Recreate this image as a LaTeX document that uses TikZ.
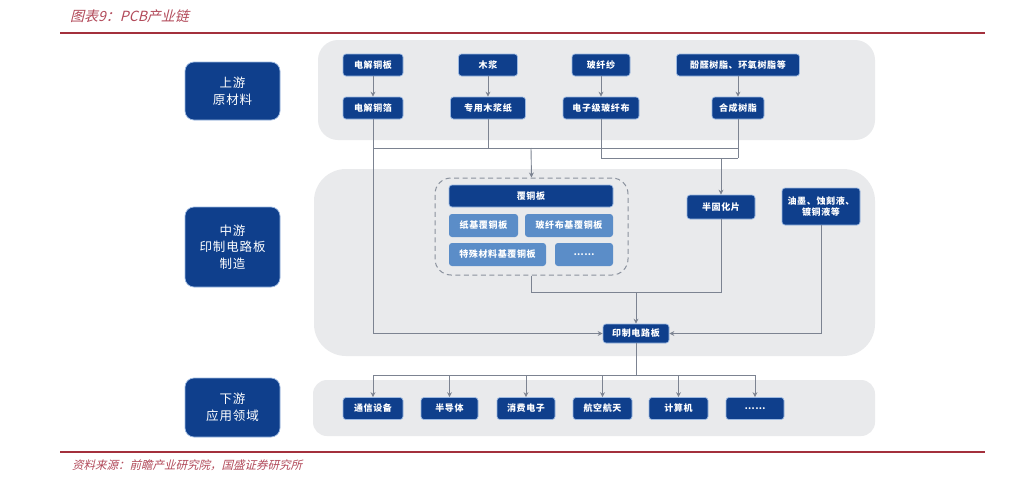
\documentclass[tikz,border=0pt]{standalone}
\usepackage{fontspec}
\usetikzlibrary{arrows.meta,calc}
\newfontfamily\cjk{Noto Sans CJK SC}
\newfontfamily\cjksp[LetterSpace=7]{Noto Sans CJK SC}
\newfontfamily\cjkit[FakeSlant=0.25]{Noto Sans CJK SC}
\definecolor{dblue}{HTML}{0F3F8C}
\definecolor{lblue}{HTML}{5B8DC8}
\definecolor{glow}{HTML}{9CB9E2}
\definecolor{panelgray}{HTML}{E9EAEC}
\definecolor{linegray}{HTML}{7C8391}
\definecolor{dashgray}{HTML}{8A919D}
\definecolor{redline}{HTML}{A3303C}
\definecolor{titlered}{HTML}{B24A5A}
\begin{document}
\begin{tikzpicture}[x=1pt,y=-1pt,
  blk/.style={fill=dblue,draw=glow,line width=0.7pt,rounded corners=3pt,text=white,inner sep=0pt,align=center,
    font=\cjksp\bfseries\fontsize{9}{11.5}\selectfont,minimum height=22pt},
  lblk/.style={fill=lblue,rounded corners=3pt,text=white,inner sep=0pt,align=center,
    font=\cjksp\bfseries\fontsize{9}{11.5}\selectfont,minimum height=23pt},
  stage/.style={fill=dblue,draw=glow,line width=0.7pt,rounded corners=9pt,text=white,inner sep=0pt,align=center,
    font=\cjksp\fontsize{12.5}{16.5}\selectfont,minimum width=95pt},
  panel/.style={fill=panelgray,draw=none},
  conn/.style={draw=linegray,line width=0.9pt},
  arr/.style={conn,-{Stealth[length=5pt,width=5pt]}},
  note/.style={text=titlered,font=\cjkit\fontsize{11.5}{13}\selectfont,anchor=west,inner sep=0pt}
]
\useasboundingbox (0,0) rectangle (1012,482);
\fill[white] (0,0) rectangle (1012,482);

% title and rules
\node[note,font=\cjkit\fontsize{14}{16}\selectfont] (title) at (70,16) {图表9：PCB产业链};
\draw[redline,line width=2.2pt] (60,33) -- (985,33);
\draw[redline,line width=2.2pt] (60,452) -- (985,452);
\node[note] (src) at (72,465) {资料来源：前瞻产业研究院，国盛证券研究所};

% panels
\path[panel,rounded corners=20pt] (318,40) rectangle (875,140);
\path[panel,rounded corners=32pt] (314,169) rectangle (875,356);
\path[panel,rounded corners=14pt] (313,380) rectangle (875,436);

% stage boxes
\node[stage,minimum height=58pt] (up) at (232.5,91) {上游\\原材料};
\node[stage,minimum height=80pt] (mid) at (232.5,247) {中游\\印制电路板\\制造};
\node[stage,minimum height=59pt] (down) at (232.5,407.5) {下游\\应用领域};

% upstream
\node[blk,minimum width=60pt] (a1) at (373,65) {电解铜板};
\node[blk,minimum width=60pt] (a2) at (373,108) {电解铜箔};
\node[blk,minimum width=59pt] (b1) at (488,65) {木浆};
\node[blk,minimum width=75pt] (b2) at (488,108) {专用木浆纸};
\node[blk,minimum width=58pt] (c1) at (601,65) {玻纤纱};
\node[blk,minimum width=76pt] (c2) at (601,108) {电子级玻纤布};
\node[blk,minimum width=123pt] (d1) at (738,65) {酚醛树脂、环氧树脂等};
\node[blk,minimum width=52pt] (d2) at (738,108) {合成树脂};

% midstream
\node[draw=dashgray,line width=1pt,dash pattern=on 5pt off 3.5pt,rounded corners=16pt,
  minimum width=193pt,minimum height=97pt,inner sep=0pt] (ccl) at (531.5,226.5) {};
\node[blk,minimum width=164pt] (fb) at (531,196) {覆铜板};
\node[lblk,minimum width=69pt] (s1) at (483.5,225.5) {纸基覆铜板};
\node[lblk,minimum width=88pt] (s2) at (569,225.5) {玻纤布基覆铜板};
\node[lblk,minimum width=97pt] (s3) at (497.5,254.5) {特殊材料基覆铜板};
\node[lblk,minimum width=58pt] (s4) at (584,254.5) {……};
\node[blk,minimum width=68pt,minimum height=24pt] (bg) at (721,207) {半固化片};
\node[blk,minimum width=78pt,minimum height=37pt] (ym) at (821,206.5) {油墨、蚀刻液、\\镀铜液等};
\node[blk,minimum width=66pt,minimum height=19pt] (pcb) at (636,333.5) {印制电路板};

% downstream
\node[blk,minimum width=60pt] (e1) at (373,408.5) {通信设备};
\node[blk,minimum width=57pt] (e2) at (449.5,408.5) {半导体};
\node[blk,minimum width=58pt] (e3) at (526,408.5) {消费电子};
\node[blk,minimum width=59pt] (e4) at (602.5,408.5) {航空航天};
\node[blk,minimum width=59pt] (e5) at (678.5,408.5) {计算机};
\node[blk,minimum width=58pt] (e6) at (755,408.5) {……};

% junction coordinates
\coordinate (h1) at (531,148);
\coordinate (h2) at (721,158);
\coordinate (h3) at (636,292);
\coordinate (h4) at (636,375);

% upstream arrows
\draw[arr] (a1) -- (a2);
\draw[arr] (b1) -- (b2);
\draw[arr] (c1) -- (c2);
\draw[arr] (d1.south -| d2) -- (d2);

% upper bus lines
\draw[conn] (a2.south |- h1) -- (d2.south |- h1);
\draw[conn] (b2.south) -- (b2.south |- h1);
\draw[conn] (c2.south) -- (c2.south |- h2);
\draw[conn] (d2.south) -- (d2.south |- h2);
\draw[conn] (c2.south |- h2) -- (d2.south |- h2);
\draw[arr] (h1) -- (ccl.north);
\draw[arr] (h2) -- (bg.north);

% to PCB
\draw[arr] (a2.south) |- (pcb.west);
\draw[conn] (ccl.south) |- (bg.south |- h3) -- (bg.south);
\draw[arr] (h3) -- (pcb.north);
\draw[arr] (ym.south) |- (pcb.east);

% downstream
\draw[conn] (pcb.south) -- (h4);
\draw[conn] (e1.north |- h4) -- (e6.north |- h4);
\foreach \n in {e1,e2,e3,e4,e5,e6}{
  \draw[arr] (\n.north |- h4) -- (\n.north);
}
\end{tikzpicture}
\end{document}
